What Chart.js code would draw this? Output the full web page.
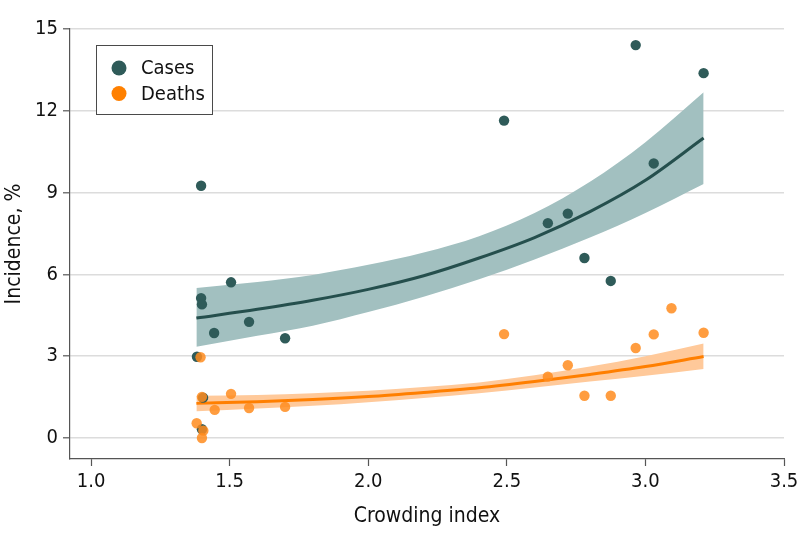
<!DOCTYPE html>
<html>
<head>
<meta charset="utf-8">
<script src="https://cdn.jsdelivr.net/npm/chart.js@4.4.1/dist/chart.umd.min.js"></script>
<style>
html,body{margin:0;padding:0;background:#fff;}
#wrap{width:798px;height:545px;position:relative;}
</style>
</head>
<body>
<div id="wrap"><canvas id="c" width="798" height="545"></canvas></div>
<script>
// ---- Data ----
const casesX = [1.382,1.397,1.397,1.400,1.400,1.404,1.444,1.505,1.570,1.700,2.490,2.648,2.720,2.780,2.875,2.965,3.030,3.210];
const casesY = [2.98,9.25,5.13,4.90,0.32,1.48,3.85,5.71,4.26,3.66,11.64,7.88,8.23,6.60,5.76,14.41,10.07,13.38];
const deathsX = [1.381,1.395,1.400,1.405,1.400,1.446,1.505,1.570,1.700,2.490,2.648,2.720,2.780,2.875,2.965,3.030,3.094,3.210];
const deathsY = [0.54,2.96,1.51,0.27,0.00,1.03,1.62,1.10,1.14,3.81,2.25,2.67,1.55,1.55,3.30,3.80,4.76,3.86];

const fitX        = [1.38,1.60,1.80,2.00,2.20,2.40,2.60,2.80,3.00,3.21];
const casesFit    = [4.40,4.72,5.05,5.45,5.95,6.60,7.35,8.30,9.45,11.00];
const casesUpper  = [5.50,5.72,5.98,6.35,6.80,7.40,8.25,9.40,10.85,12.68];
const casesLower  = [3.35,3.75,4.12,4.62,5.18,5.82,6.55,7.35,8.25,9.32];
const deathsFit   = [1.27,1.33,1.41,1.52,1.67,1.84,2.07,2.33,2.62,2.99];
const deathsUpper = [1.55,1.58,1.64,1.73,1.87,2.04,2.30,2.62,3.00,3.47];
const deathsLower = [0.98,1.08,1.18,1.31,1.47,1.64,1.85,2.07,2.28,2.53];

const xTicks = [1.0,1.5,2.0,2.5,3.0,3.5];
const yTicks = [0,3,6,9,12,15];
const seriesLabels = ['Cases','Deaths'];

// ---- Styles ----
const FONT = "'Liberation Sans Narrow','DejaVu Sans Condensed','Liberation Sans',sans-serif";
const TEAL = '#2f5b59', TEAL_LINE = '#254f4d', TEAL_BAND = '#a2c0c0';
const ORANGE = 'rgba(255,140,30,0.85)', ORANGE_SOLID = '#ff8000', ORANGE_LINE = '#ff7f00', ORANGE_BAND = '#ffc99a';

const pts = (xs, ys) => xs.map((x,i)=>({x:x, y:ys[i]}));

const legendPlugin = {
  id:'insideLegend',
  afterDraw(chart){
    const ctx = chart.ctx;
    ctx.save();
    ctx.fillStyle = '#fff';
    ctx.fillRect(96.5,45.5,116,69);
    ctx.strokeStyle = '#4a4a4a';
    ctx.lineWidth = 1;
    ctx.strokeRect(96.5,45.5,116,69);
    const items = [{label:chart.data.datasets[6].label,color:TEAL,y:68},
                   {label:chart.data.datasets[7].label,color:ORANGE_SOLID,y:93.5}];
    ctx.font = "20px " + FONT;
    ctx.textBaseline = 'middle';
    items.forEach(it=>{
      ctx.beginPath();
      ctx.arc(119,it.y,7.5,0,Math.PI*2);
      ctx.fillStyle = it.color;
      ctx.fill();
      ctx.fillStyle = '#111';
      ctx.fillText(it.label,141,it.y+1);
    });
    ctx.restore();
  }
};

const lineDefaults = {showLine:true, pointRadius:0, pointHoverRadius:0, tension:0.4, cubicInterpolationMode:'monotone'};

new Chart(document.getElementById('c'), {
  type:'scatter',
  data:{
    datasets:[
      Object.assign({label:'cu', data:pts(fitX,casesUpper), borderWidth:0, borderColor:'rgba(0,0,0,0)', backgroundColor:TEAL_BAND, fill:'+1', order:4}, lineDefaults),
      Object.assign({label:'cl', data:pts(fitX,casesLower), borderWidth:0, borderColor:'rgba(0,0,0,0)', fill:false, order:4}, lineDefaults),
      Object.assign({label:'du', data:pts(fitX,deathsUpper), borderWidth:0, borderColor:'rgba(0,0,0,0)', backgroundColor:ORANGE_BAND, fill:'+1', order:3}, lineDefaults),
      Object.assign({label:'dl', data:pts(fitX,deathsLower), borderWidth:0, borderColor:'rgba(0,0,0,0)', fill:false, order:3}, lineDefaults),
      Object.assign({label:'cf', data:pts(fitX,casesFit), borderWidth:3, borderColor:TEAL_LINE, fill:false, order:2}, lineDefaults),
      Object.assign({label:'df', data:pts(fitX,deathsFit), borderWidth:3, borderColor:ORANGE_LINE, fill:false, order:2}, lineDefaults),
      {label:seriesLabels[0], data:pts(casesX,casesY), pointRadius:5.2, pointHoverRadius:5.2, backgroundColor:TEAL, borderWidth:0, order:1},
      {label:seriesLabels[1], data:pts(deathsX,deathsY), pointRadius:5.2, pointHoverRadius:5.2, backgroundColor:ORANGE, borderWidth:0, order:0}
    ]
  },
  options:{
    responsive:false,
    animation:false,
    events:[],
    layout:{padding:{top:29,right:0,left:2,bottom:0}},
    plugins:{legend:{display:false}, tooltip:{enabled:false}},
    scales:{
      x:{
        type:'linear', min:0.924, max:3.5,
        afterBuildTicks:(s)=>{s.ticks = xTicks.map(v=>({value:v}));},
        afterFit:(s)=>{s.height = 86; s.paddingRight = 14; s.paddingLeft = 0;},
        ticks:{font:{family:FONT,size:20}, color:'#111', padding:4, callback:(v)=>Number(v).toFixed(1), maxRotation:0, autoSkip:false},
        grid:{drawOnChartArea:false, drawTicks:true, tickLength:7, tickColor:'#555', tickWidth:1.2},
        border:{display:true, color:'#555', width:1.2},
        title:{display:true, text:'Crowding index', font:{family:FONT,size:21}, color:'#111', padding:{top:0,bottom:16}}
      },
      y:{
        type:'linear', min:-0.77, max:15,
        afterBuildTicks:(s)=>{s.ticks = yTicks.map(v=>({value:v}));},
        afterFit:(s)=>{s.width = 68;},
        ticks:{font:{family:FONT,size:20}, color:'#111', padding:5, autoSkip:false},
        grid:{drawOnChartArea:true, color:'#dcdcdc', lineWidth:1.6, drawTicks:true, tickLength:7, tickColor:'#555', tickWidth:1.2},
        border:{display:true, color:'#555', width:1.2},
        title:{display:true, text:'Incidence, %', font:{family:FONT,size:21}, color:'#111', padding:{top:0,bottom:0}}
      }
    }
  },
  plugins:[legendPlugin]
});
</script>
</body>
</html>
